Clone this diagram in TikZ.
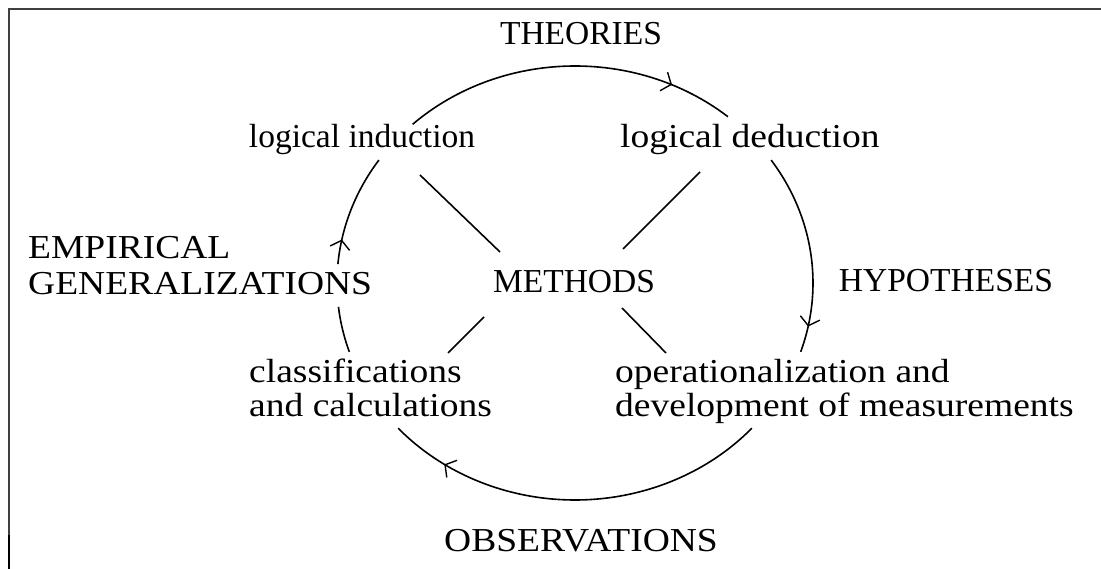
\documentclass[tikz,border=0pt]{standalone}
\usepackage{fontspec}
\setmainfont{Liberation Serif}
\newfontfamily\widefont[FakeStretch=1.12]{Liberation Serif}
\usetikzlibrary{positioning,arrows.meta,decorations.markings}

\begin{document}
\begin{tikzpicture}[x=1pt,y=1pt,
    lbl/.style={font=\fontsize{33.5}{34}\selectfont,inner sep=0pt},
    widelbl/.style={font=\widefont\fontsize{33.5}{34}\selectfont,inner sep=0pt},
    spoke/.style={line width=1.6pt},
    cyc/.style={line width=1.6pt},
    midtick/.style={postaction={decorate},decoration={markings,
        mark=at position #1 with {\arrow{Straight Barb[length=8pt,width=20pt,line width=1.4pt]}}}}]
    \useasboundingbox (0,0) rectangle (1101,569);
    % frame
    \draw[line width=1.8pt,black!75] (9,34) -- (9,560) -- (1101,560);
    \draw[line width=1.8pt] (9,0) -- (9,34);

    % labels
    \node[lbl,anchor=base] (theories) at (581,524) {THEORIES};
    \node[lbl,anchor=base] (induct) at (362,421) {logical induction};
    \node[widelbl,anchor=base west] (deduct) at (620,421) {logical deduction};
    \node[widelbl,anchor=base west,align=left] (empir) at (28,274) {EMPIRICAL\\[2pt]GENERALIZATIONS};
    \node[lbl,anchor=base] (methods) at (574,276) {METHODS};
    \node[lbl,anchor=base] (hypo) at (946,277) {HYPOTHESES};
    \node[widelbl,anchor=base west,align=left] (classif) at (249,152) {classifications\\and calculations};
    \node[widelbl,anchor=base west,align=left] (operat) at (615,152) {operationalization and\\development of measurements};
    \node[widelbl,anchor=base] (observ) at (581,17) {OBSERVATIONS};

    % the cycle round the methods
    \coordinate (ctr) at (575,286);
    \draw[cyc,midtick=0.81] (ctr) ++(133:238 and 217) arc[start angle=133,end angle=50,x radius=238,y radius=217];
    \draw[cyc,midtick=0.87] (ctr) ++(34.5:238 and 217) arc[start angle=34.5,end angle=-18.5,x radius=238,y radius=217];
    \draw[cyc,midtick=0.85] (ctr) ++(-42:238 and 217) arc[start angle=-42,end angle=-138,x radius=238,y radius=217];
    \draw[cyc] (ctr) ++(-161.5:238 and 217) arc[start angle=-161.5,end angle=-173.7,x radius=238,y radius=217];
    \draw[cyc,midtick=0.22] (ctr) ++(175:238 and 217) arc[start angle=175,end angle=145.5,x radius=238,y radius=217];

    % spokes
    \coordinate (m-ind) at (500,317);
    \coordinate (m-ded) at (623,320);
    \coordinate (m-cla) at (484,252);
    \coordinate (m-ope) at (622,261);
    \coordinate (ind-s) at (420,394);
    \coordinate (ded-s) at (700,397);
    \coordinate (cla-s) at (448,216);
    \coordinate (ope-s) at (666,216);
    \draw[spoke] (ind-s) -- (m-ind);
    \draw[spoke] (ded-s) -- (m-ded);
    \draw[spoke] (m-cla) -- (cla-s);
    \draw[spoke] (m-ope) -- (ope-s);
\end{tikzpicture}
\end{document}
